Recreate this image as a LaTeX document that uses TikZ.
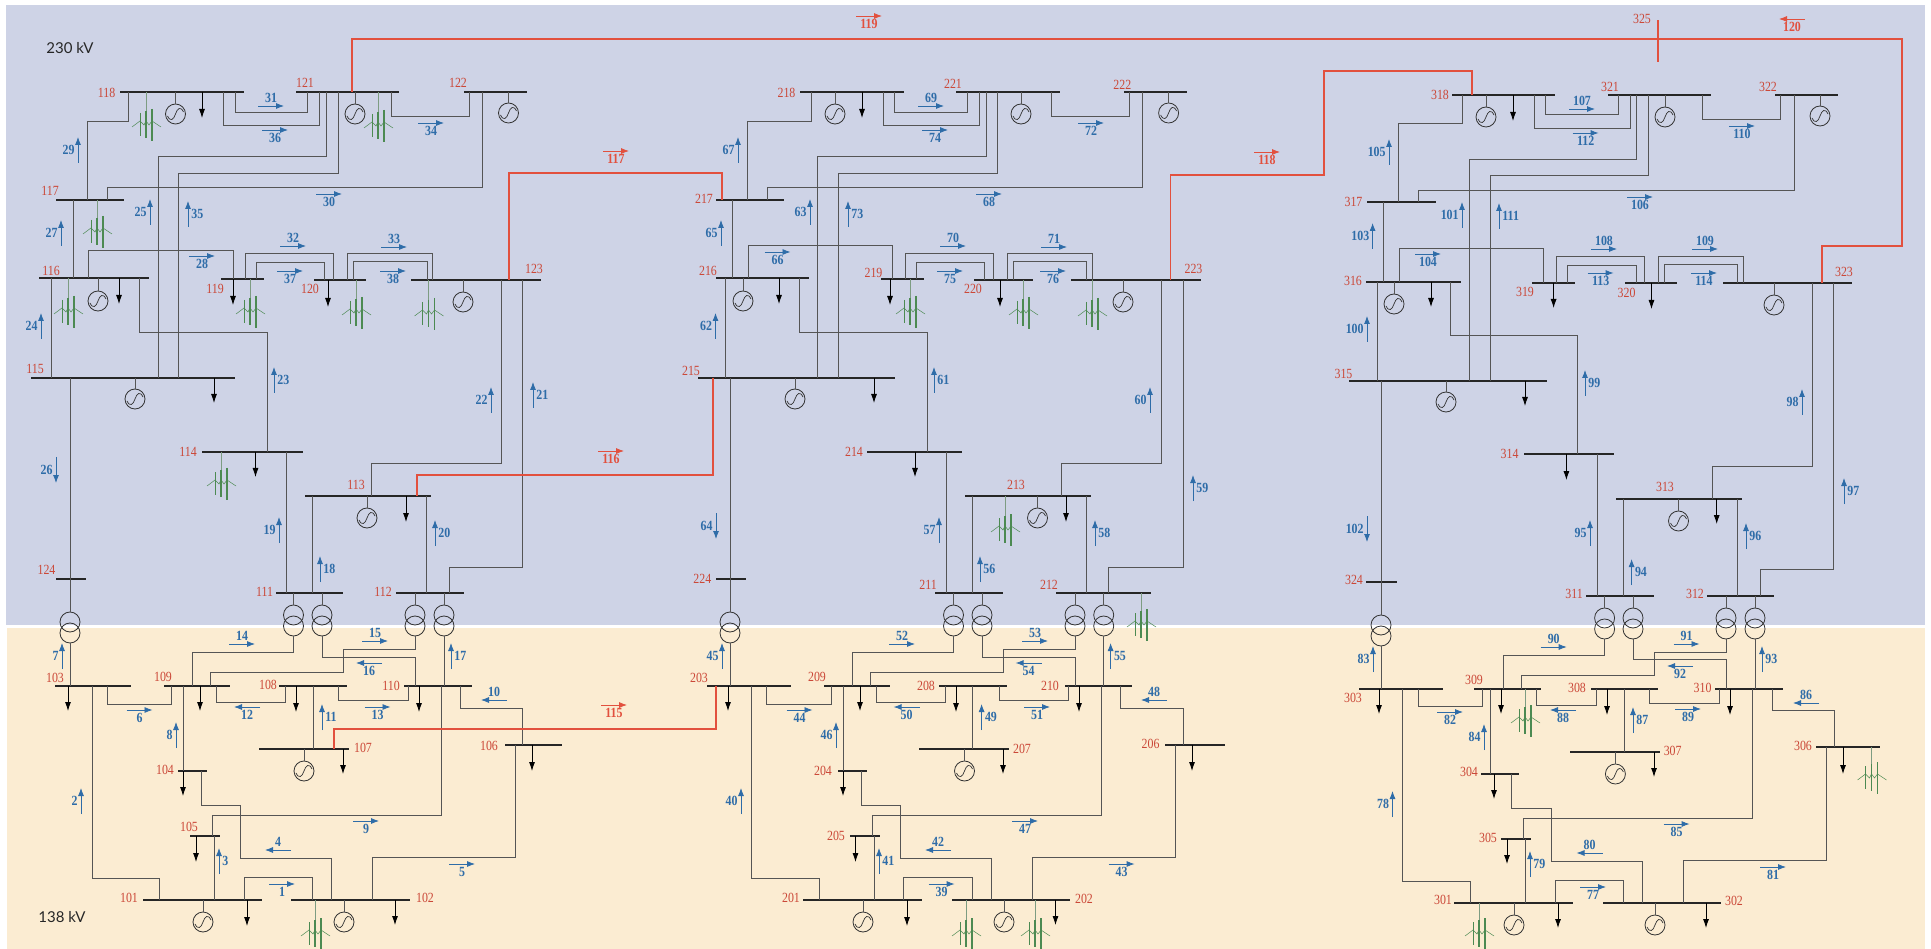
\documentclass[tikz,border=0pt]{standalone}
\usepackage{fontspec}
\usepackage{xcolor}
\usetikzlibrary{arrows.meta,positioning}
\setmainfont[FakeStretch=0.85]{Liberation Serif}
\newfontfamily\voltfont{Lato}

\definecolor{hvband}{HTML}{CED3E6}
\definecolor{lvband}{HTML}{FBECD2}
\definecolor{feedergray}{HTML}{555555}
\definecolor{tiered}{HTML}{E2503E}
\definecolor{flowblue}{HTML}{2E6CA8}
\definecolor{windgreen}{HTML}{4C8A52}
\definecolor{stemgreen}{HTML}{7D9C82}

\tikzset{
	busbar/.style={rectangle,fill=black!85,inner sep=0pt,minimum height=2pt},
	buslabel/.style={inner sep=0pt,text=tiered!90!black,font=\fontsize{14}{14}\selectfont},
	feeder/.style={draw=feedergray,line width=0.9pt},
	tieline/.style={draw=tiered,line width=1.1pt},
	winding/.style={circle,draw=black!80,line width=0.8pt,minimum size=20pt,inner sep=0pt},
	genset/.style={circle,draw=black!80,line width=0.8pt,minimum size=20pt,inner sep=0pt},
	sinewave/.style={draw=black!80,line width=0.7pt},
	demand/.style={draw=black,line width=0.8pt,-{Latex[length=9pt,width=6pt]}},
	flow/.style={color=flowblue,line width=0.8pt,-{Latex[length=8pt,width=6pt]},every node/.style={inner sep=1pt,font=\bfseries\fontsize{14}{14}\selectfont}},
	flowtie/.style={color=tiered,line width=0.8pt,-{Latex[length=8pt,width=6pt]},every node/.style={inner sep=1pt,font=\bfseries\fontsize{14}{14}\selectfont}},
	turbines/.pic={
		\draw[windgreen,line width=0.9pt] (-6,-8) -- (-6,15);
		\draw[windgreen,line width=1.1pt] (0,-10) -- (0,17);
		\draw[windgreen,line width=1.4pt] (6,-12) -- (6,20);
		\draw[windgreen,line width=0.5pt] (-14,6) -- (-6,0) -- (-2,4) -- (0,0) -- (3,4) -- (6,0) -- (15,6);
	}
}

\newcommand{\bus}[6]{
	\node[busbar,minimum width={(#3-#2)*1pt}] (b#1) at ({(#2+#3)/2},#4) {};
	\node[buslabel] (n#1) at (#5,#6) {#1};
}
\newcommand{\tie}[3]{\draw[feeder] (#2,0 |- b#1) -- (#2,0 |- b#3);}
\newcommand{\link}[6][feeder]{\draw[#1] (#3,0 |- b#2) |- (#5,#4) -- (#5,0 |- b#6);}
\newcommand{\xfmr}[4]{
	\node[winding] (t#1u) at (#3,#4) {};
	\node[winding] (t#1l) at (#3,{#4+11}) {};
	\draw[feeder] (#3,0 |- b#2) -- (t#1u.north);
}
\newcommand{\xlink}[4]{\draw[feeder] (t#1l.south) |- (#3,#2) -- (#3,0 |- b#4);}
\newcommand{\gen}[3]{
	\node[genset] (g#1) at (#2,#3) {};
	\draw[feeder] (#2,0 |- b#1) -- (g#1.north);
	\draw[sinewave,shift={(#2,#3)}] (-8,2) .. controls (-5,8) and (-2,6) .. (0,0) .. controls (2,-6) and (5,-8) .. (8,-2);
}
\newcommand{\load}[3]{
	\coordinate (d#1) at (#2,#3);
	\draw[demand] (#2,0 |- b#1) -- (d#1);
}
\newcommand{\wind}[3]{
	\coordinate (w) at (#2,{#3-10});
	\draw[stemgreen,line width=1pt] (#2,0 |- b#1) -- (w);
	\pic at (#2,#3) {turbines};
}
\newcommand{\flowr}[5][flow]{\draw[#1] (#2,#3) -- ++(26,0) node[midway,#4=2pt] (f#5) {#5};}
\newcommand{\flowl}[5][flow]{\draw[#1] (#2,#3) -- ++(-26,0) node[midway,#4=2pt] (f#5) {#5};}
\newcommand{\flowu}[4]{\draw[flow] (#1,#2) -- ++(0,-26) node[midway,#3=2pt] (f#4) {#4};}
\newcommand{\flowd}[4]{\draw[flow] (#1,#2) -- ++(0,26) node[midway,#3=2pt] (f#4) {#4};}

\begin{document}
\begin{tikzpicture}[x=1pt,y=-1pt]
	\useasboundingbox (0,0) rectangle (1931,949);
	\fill[hvband] (6,5) rectangle (1925,625);
	\fill[lvband] (7,628) rectangle (1925,949);
	\node[font=\voltfont\fontsize{15}{15}\selectfont,text=black!85,inner sep=0pt] (v230) at (70,48) {230 kV};
	\node[font=\voltfont\fontsize{15}{15}\selectfont,text=black!85,inner sep=0pt] (v138) at (62,917) {138 kV};

	\bus{118}{120}{244}{92}{106.5}{93}
	\bus{121}{296}{399}{92}{305}{83}
	\bus{122}{464}{527}{92}{458}{83}
	\bus{117}{56}{124}{200}{50}{191}
	\bus{116}{39}{149}{278}{51}{271}
	\bus{119}{221}{264}{279}{215}{289}
	\bus{120}{314}{366}{280}{310}{289}
	\bus{123}{411}{541}{280}{534}{269}
	\bus{115}{31}{235}{378}{35}{369}
	\bus{114}{202}{303}{452}{188}{452}
	\bus{113}{305}{431}{496}{356}{485}
	\bus{124}{56}{86}{579}{46.5}{570}
	\bus{111}{276}{343}{593}{264.5}{592}
	\bus{112}{396}{464}{593}{383}{592}
	\bus{103}{55}{131}{686}{55}{678}
	\bus{109}{164}{230}{686}{163}{677}
	\bus{108}{279}{347}{686}{268}{685}
	\bus{110}{404}{472}{686}{391}{686}
	\bus{107}{259}{349}{749}{363}{748}
	\bus{106}{505}{562}{745}{489}{746}
	\bus{104}{178}{207}{771}{165}{770}
	\bus{105}{190}{220}{836}{189}{827}
	\bus{101}{143}{262}{900}{129}{898}
	\bus{102}{291}{410}{900}{425}{898}

	\bus{218}{800}{904}{92}{786.5}{93}
	\bus{221}{956}{1060}{92}{953}{84}
	\bus{222}{1124}{1187}{92}{1122.4}{85}
	\bus{217}{716}{784}{200}{704}{199}
	\bus{216}{715.5}{809}{278}{708}{271}
	\bus{219}{881}{924}{279}{873.5}{273}
	\bus{220}{974}{1033}{280}{973}{289}
	\bus{223}{1071}{1201}{280}{1193.5}{269}
	\bus{215}{698}{895}{378}{691}{371}
	\bus{214}{867}{962}{452}{854}{452}
	\bus{213}{965}{1091}{496}{1016}{485}
	\bus{224}{715.5}{746}{579}{702.4}{579}
	\bus{211}{935}{1003}{593}{928}{585}
	\bus{212}{1055.5}{1151}{593}{1049}{585}
	\bus{203}{707}{791}{686}{699}{678}
	\bus{209}{824}{890}{686}{817}{677}
	\bus{208}{939}{1007}{686}{926}{686}
	\bus{210}{1064.5}{1132}{686}{1050}{686}
	\bus{207}{919}{1009}{749}{1022}{749}
	\bus{206}{1165}{1225}{745}{1150.6}{744}
	\bus{204}{837.5}{867}{771}{823}{771}
	\bus{205}{850}{880}{836}{836}{836}
	\bus{201}{803}{922}{900}{791}{898}
	\bus{202}{951.5}{1070}{900}{1084}{899}

	\bus{318}{1452}{1555}{95}{1440}{95}
	\bus{321}{1608}{1710.5}{95}{1610}{87}
	\bus{322}{1775}{1838}{95}{1768}{87}
	\bus{317}{1367}{1436}{202}{1353.5}{202}
	\bus{316}{1366}{1460.6}{282}{1353}{281}
	\bus{319}{1531.6}{1575}{283}{1525}{292}
	\bus{320}{1625}{1677}{283}{1626.6}{293}
	\bus{323}{1723}{1852}{283}{1844}{272}
	\bus{315}{1349}{1546.5}{381}{1343.5}{374}
	\bus{314}{1524}{1614}{454}{1509.6}{454}
	\bus{313}{1616}{1742}{499}{1665}{487}
	\bus{324}{1366}{1397}{582}{1354}{580}
	\bus{311}{1586}{1654}{596}{1574}{594}
	\bus{312}{1707}{1774}{596}{1695}{594}
	\bus{303}{1359}{1443}{689}{1353}{698}
	\bus{309}{1474}{1541}{689}{1474}{680}
	\bus{308}{1590.5}{1658}{689}{1577}{688}
	\bus{310}{1715}{1783}{689}{1702.6}{688}
	\bus{307}{1570}{1660}{752}{1672.7}{751}
	\bus{306}{1816}{1880}{747}{1803}{746}
	\bus{304}{1481}{1519}{774}{1469}{772}
	\bus{305}{1501}{1531}{839}{1488}{838}
	\bus{301}{1454}{1573}{903}{1443}{900}
	\bus{302}{1603}{1721}{903}{1734}{901}
	\node[rectangle,fill=tiered,inner sep=0pt,minimum width=2pt,minimum height=42pt] (b325) at (1658,41) {};
	\node[buslabel] (n325) at (1642,19) {325};

	\link{118}{235}{112}{307}{121}
	\link{118}{223}{125}{319}{121}
	\link{118}{128}{121}{87}{117}
	\link{121}{326}{156}{158}{115}
	\link{121}{338}{173}{178}{115}
	\link{121}{391}{116}{469}{122}
	\link{122}{482}{187}{107}{117}
	\tie{117}{73}{116}
	\tie{116}{51}{115}
	\link{116}{88}{250}{233}{119}
	\link{116}{139}{332}{267}{114}
	\link{119}{245}{253}{333}{120}
	\link{119}{256}{262}{324}{120}
	\link{120}{347}{253}{432}{123}
	\link{120}{353}{261}{427}{123}
	\link{123}{501}{463}{371}{113}
	\link{123}{522}{567}{449}{112}
	\tie{115}{70}{124}
	\tie{114}{286}{111}
	\tie{113}{312}{111}
	\tie{113}{426}{112}
	\xfmr{124}{124}{70}{622}
	\xfmr{111a}{111}{293.5}{615}
	\xfmr{111b}{111}{322}{615}
	\xfmr{112a}{112}{415}{615}
	\xfmr{112b}{112}{444}{615}
	\draw[feeder] (t124l.south) -- (70,0 |- b103);
	\xlink{111a}{652}{192}{109}
	\xlink{111b}{657}{415}{110}
	\draw[feeder] (t112al.south) |- (343,649) |- (210,672) -- (210,0 |- b109);
	\draw[feeder] (t112bl.south) -- (444,0 |- b110);
	\link{103}{107}{704}{171}{109}
	\link{103}{92}{878}{159}{101}
	\link{109}{216}{702}{285}{108}
	\link{108}{338}{700}{408}{110}
	\tie{108}{313}{107}
	\tie{109}{183}{104}
	\draw[feeder] (201,0 |- b104) |- (240,805) |- (331,858) -- (331,0 |- b102);
	\link{110}{441}{815}{212}{105}
	\tie{105}{214}{101}
	\link{101}{244}{877}{312}{102}
	\link{102}{372}{857}{515}{106}
	\link{110}{460}{708}{522}{106}

	\link{218}{894}{112}{967}{221}
	\link{218}{883}{125}{979}{221}
	\link{218}{811}{121}{747}{217}
	\link{221}{986}{156}{817.5}{215}
	\link{221}{997.5}{173}{838}{215}
	\link{221}{1051}{116}{1129}{222}
	\link{222}{1142}{187}{767}{217}
	\tie{217}{732}{216}
	\tie{216}{725}{215}
	\link{216}{748}{245}{892}{219}
	\link{216}{799}{332}{927}{214}
	\link{219}{905}{253}{993}{220}
	\link{219}{916}{262}{984.5}{220}
	\link{220}{1007}{253}{1092}{223}
	\link{220}{1013.5}{261}{1086}{223}
	\link{223}{1161}{463}{1061}{213}
	\link{223}{1183}{567}{1108.5}{212}
	\tie{215}{730}{224}
	\tie{214}{946.5}{211}
	\tie{213}{972}{211}
	\tie{213}{1086}{212}
	\xfmr{224}{224}{730}{622}
	\xfmr{211a}{211}{953.5}{615}
	\xfmr{211b}{211}{982}{615}
	\xfmr{212a}{212}{1075}{615}
	\xfmr{212b}{212}{1103.7}{615}
	\draw[feeder] (t224l.south) -- (730,0 |- b203);
	\xlink{211a}{652}{852}{209}
	\xlink{211b}{657}{1075}{210}
	\draw[feeder] (t212al.south) |- (1003,649) |- (870,672) -- (870,0 |- b209);
	\draw[feeder] (t212bl.south) -- (1103.7,0 |- b210);
	\link{203}{766.5}{704}{831}{209}
	\link{203}{751.4}{878}{819}{201}
	\link{209}{876}{702}{945}{208}
	\link{208}{999}{700}{1068}{210}
	\tie{208}{972.6}{207}
	\tie{209}{843}{204}
	\draw[feeder] (861,0 |- b204) |- (900,805) |- (991,858) -- (991,0 |- b202);
	\link{210}{1101.6}{815}{872}{205}
	\tie{205}{874}{201}
	\link{201}{903.7}{877}{972}{202}
	\link{202}{1032}{857}{1175}{206}
	\link{210}{1120}{708}{1183}{206}

	\link{318}{1545}{114}{1618}{321}
	\link{318}{1534}{128}{1630}{321}
	\link{318}{1462}{123}{1398}{317}
	\link{321}{1636.6}{159}{1469}{315}
	\link{321}{1648}{175}{1490}{315}
	\link{321}{1702.6}{119}{1780}{322}
	\link{322}{1794}{190}{1418}{317}
	\tie{317}{1383}{316}
	\tie{316}{1377}{315}
	\link{316}{1399.6}{248}{1543}{319}
	\link{316}{1450}{335}{1577.6}{314}
	\link{319}{1556.5}{256}{1644}{320}
	\link{319}{1567}{265}{1636}{320}
	\link{320}{1658.6}{256}{1743}{323}
	\link{320}{1664}{264}{1737}{323}
	\link{323}{1812}{466}{1712}{313}
	\link{323}{1833}{569}{1760}{312}
	\tie{315}{1381}{324}
	\tie{314}{1597.6}{311}
	\tie{313}{1623}{311}
	\tie{313}{1737.5}{312}
	\xfmr{324}{324}{1381}{625}
	\xfmr{311a}{311}{1604.6}{618}
	\xfmr{311b}{311}{1633}{618}
	\xfmr{312a}{312}{1726}{618}
	\xfmr{312b}{312}{1755}{618}
	\draw[feeder] (t324l.south) -- (1381,0 |- b303);
	\xlink{311a}{655}{1503}{309}
	\xlink{311b}{659}{1726.6}{310}
	\draw[feeder] (t312al.south) |- (1654,652) |- (1521,675) -- (1521,0 |- b309);
	\draw[feeder] (t312bl.south) -- (1755,0 |- b310);
	\link{303}{1418}{706}{1482.6}{309}
	\link{303}{1402.5}{881}{1470}{301}
	\link{309}{1536.5}{705}{1596}{308}
	\link{308}{1649.5}{703}{1719}{310}
	\tie{308}{1624}{307}
	\tie{309}{1490}{304}
	\draw[feeder] (1511.6,0 |- b304) |- (1551.5,808) |- (1642.4,861) -- (1642.4,0 |- b302);
	\link{310}{1752}{818}{1523}{305}
	\tie{305}{1525}{301}
	\link{301}{1555}{880}{1623}{302}
	\link{302}{1683.5}{860}{1826}{306}
	\link{310}{1772}{710}{1834}{306}

	\draw[tieline] (352,0 |- b121) |- (b325 |- 0,39);
	\draw[tieline] (1822,0 |- b323) |- (1902,246) |- (b325 |- 0,39);
	\link[tieline]{123}{509}{173}{722}{217}
	\link[tieline]{113}{417}{475}{713}{215}
	\link[tieline]{107}{334}{729}{716}{203}
	\draw[tieline] (1170.6,0 |- b223) |- (1324,175) |- (1472,71) -- (1472,0 |- b318);

	\gen{118}{175.5}{114}
	\gen{121}{355}{114}
	\gen{122}{508.5}{113}
	\gen{116}{98}{301}
	\gen{123}{463}{302}
	\gen{115}{135}{399}
	\gen{113}{367}{518}
	\gen{107}{304}{771}
	\gen{101}{203}{922}
	\gen{102}{344}{922}
	\gen{218}{835}{114}
	\gen{221}{1021}{114}
	\gen{222}{1168.6}{113}
	\gen{216}{743}{301}
	\gen{223}{1123}{302}
	\gen{215}{795}{399}
	\gen{213}{1037.5}{518}
	\gen{207}{964.5}{771}
	\gen{201}{863}{922}
	\gen{202}{1004}{922}
	\gen{318}{1486}{117}
	\gen{321}{1665}{117}
	\gen{322}{1820}{116}
	\gen{316}{1394}{304}
	\gen{323}{1774}{305}
	\gen{315}{1446}{402}
	\gen{313}{1678.5}{521}
	\gen{307}{1615.4}{774}
	\gen{301}{1514}{925}
	\gen{302}{1655}{925}

	\load{118}{202}{118}
	\load{116}{119}{304}
	\load{119}{233}{305}
	\load{120}{328}{307}
	\load{115}{214}{403}
	\load{114}{255.5}{477}
	\load{113}{406}{522}
	\load{103}{68}{711}
	\load{109}{200}{711}
	\load{108}{296}{712}
	\load{110}{419}{712}
	\load{107}{343}{774}
	\load{106}{532}{771}
	\load{104}{183}{796}
	\load{105}{196}{862}
	\load{101}{247}{926}
	\load{102}{395}{925}
	\load{218}{862}{118}
	\load{216}{779}{304}
	\load{219}{890}{305}
	\load{220}{1000}{307}
	\load{215}{874}{403}
	\load{214}{915}{477}
	\load{213}{1066}{522}
	\load{203}{728}{711}
	\load{209}{860}{711}
	\load{208}{956}{712}
	\load{210}{1079}{712}
	\load{207}{1003}{774}
	\load{206}{1192}{771}
	\load{204}{843}{796}
	\load{205}{855.5}{862}
	\load{201}{907}{926}
	\load{202}{1055.5}{925}
	\load{318}{1513}{121}
	\load{316}{1431}{307}
	\load{319}{1553.6}{308}
	\load{320}{1651.5}{309}
	\load{315}{1525}{406}
	\load{314}{1566.4}{480}
	\load{313}{1716.7}{524}
	\load{303}{1379}{714}
	\load{309}{1501}{714}
	\load{308}{1607}{715}
	\load{310}{1730}{715}
	\load{307}{1654}{777}
	\load{306}{1843}{774}
	\load{304}{1494}{799}
	\load{305}{1507}{864}
	\load{301}{1558}{928}
	\load{302}{1706}{928}

	\wind{118}{146}{121}
	\wind{121}{378}{122}
	\wind{117}{97}{228}
	\wind{116}{68}{308}
	\wind{119}{250}{308}
	\wind{120}{356}{309}
	\wind{123}{428.5}{310}
	\wind{114}{221}{480}
	\wind{102}{315}{930}
	\wind{219}{910}{308}
	\wind{220}{1023}{309}
	\wind{223}{1092}{310}
	\wind{213}{1005}{526}
	\wind{212}{1141}{621}
	\wind{202}{966}{930}
	\wind{202}{1035}{930}
	\wind{309}{1525}{717}
	\wind{306}{1871.5}{774}
	\wind{301}{1479}{930}

	\flowr{269}{884}{below}{1}
	\flowu{81}{814}{left}{2}
	\flowu{219}{874}{right}{3}
	\flowl{291}{850}{above}{4}
	\flowr{449}{864}{below}{5}
	\flowr{126.5}{710}{below}{6}
	\flowu{62}{669}{left}{7}
	\flowu{176}{748}{left}{8}
	\flowr{353}{821}{below}{9}
	\flowl{507}{700}{above}{10}
	\flowu{322}{730}{right}{11}
	\flowl{260}{707}{below}{12}
	\flowr{364.5}{707}{below}{13}
	\flowr{229}{644}{above}{14}
	\flowr{362}{641}{above}{15}
	\flowl{382}{663}{below}{16}
	\flowu{451}{669}{right}{17}
	\flowu{320}{582}{right}{18}
	\flowu{279}{543}{left}{19}
	\flowu{435}{546}{right}{20}
	\flowu{533}{408}{right}{21}
	\flowu{491}{413}{left}{22}
	\flowu{274}{393}{right}{23}
	\flowu{41}{339}{left}{24}
	\flowu{150}{225}{left}{25}
	\flowd{56}{457}{left}{26}
	\flowu{61}{246}{left}{27}
	\flowr{189}{256}{below}{28}
	\flowu{78}{163}{left}{29}
	\flowr{316}{194}{below}{30}
	\flowr{258}{106}{above}{31}
	\flowr{280}{246}{above}{32}
	\flowr{381}{247}{above}{33}
	\flowr{418}{123}{below}{34}
	\flowu{188}{227}{right}{35}
	\flowr{262}{130}{below}{36}
	\flowr{277}{271}{below}{37}
	\flowr{380}{271}{below}{38}
	\flowr{928.6}{884}{below}{39}
	\flowu{741}{814}{left}{40}
	\flowu{879}{874}{right}{41}
	\flowl{951}{850}{above}{42}
	\flowr{1108.6}{864}{below}{43}
	\flowr{786.5}{710}{below}{44}
	\flowu{722}{669}{left}{45}
	\flowu{836}{748}{left}{46}
	\flowr{1012}{821}{below}{47}
	\flowl{1167}{700}{above}{48}
	\flowu{981.6}{730}{right}{49}
	\flowl{919.6}{707}{below}{50}
	\flowr{1024}{707}{below}{51}
	\flowr{889}{644}{above}{52}
	\flowr{1022}{641}{above}{53}
	\flowl{1041.6}{663}{below}{54}
	\flowu{1110.6}{669}{right}{55}
	\flowu{980}{582}{right}{56}
	\flowu{939}{543}{left}{57}
	\flowu{1095}{546}{right}{58}
	\flowu{1193}{501}{right}{59}
	\flowu{1150}{413}{left}{60}
	\flowu{934}{393}{right}{61}
	\flowu{715.5}{339}{left}{62}
	\flowu{810}{225}{left}{63}
	\flowd{716}{513}{left}{64}
	\flowu{721}{246}{left}{65}
	\flowr{764.5}{252}{below}{66}
	\flowu{738}{163}{left}{67}
	\flowr{976}{194}{below}{68}
	\flowr{918}{106}{above}{69}
	\flowr{940}{246}{above}{70}
	\flowr{1041}{247}{above}{71}
	\flowr{1078}{123}{below}{72}
	\flowu{848}{227}{right}{73}
	\flowr{922}{130}{below}{74}
	\flowr{937}{271}{below}{75}
	\flowr{1040}{271}{below}{76}
	\flowr{1580}{887}{below}{77}
	\flowu{1392.5}{817}{left}{78}
	\flowu{1530}{877}{right}{79}
	\flowl{1602.5}{853}{above}{80}
	\flowr{1760}{867}{below}{81}
	\flowr{1437}{712}{below}{82}
	\flowu{1373}{672}{left}{83}
	\flowu{1484}{750}{left}{84}
	\flowr{1663.6}{824}{below}{85}
	\flowl{1819}{703}{above}{86}
	\flowu{1633}{733}{right}{87}
	\flowl{1576}{710}{below}{88}
	\flowr{1675}{709}{below}{89}
	\flowr{1540.7}{647}{above}{90}
	\flowr{1673.5}{644}{above}{91}
	\flowl{1693}{666}{below}{92}
	\flowu{1762}{672}{right}{93}
	\flowu{1631.6}{585}{right}{94}
	\flowu{1590}{546}{left}{95}
	\flowu{1746}{549}{right}{96}
	\flowu{1844}{504}{right}{97}
	\flowu{1802}{415}{left}{98}
	\flowu{1585}{396}{right}{99}
	\flowu{1367}{342}{left}{100}
	\flowu{1462}{228}{left}{101}
	\flowd{1367}{516}{left}{102}
	\flowu{1372.6}{249}{left}{103}
	\flowr{1415}{254}{below}{104}
	\flowu{1389}{165}{left}{105}
	\flowr{1627}{197}{below}{106}
	\flowr{1569}{109}{above}{107}
	\flowr{1591}{249}{above}{108}
	\flowr{1692}{249}{above}{109}
	\flowr{1729}{126}{below}{110}
	\flowu{1499}{229}{right}{111}
	\flowr{1572.6}{133}{below}{112}
	\flowr{1587.6}{273}{below}{113}
	\flowr{1691}{273}{below}{114}
	\flowr[flowtie]{601}{705}{below}{115}
	\flowr[flowtie]{598}{451}{below}{116}
	\flowr[flowtie]{603}{151}{below}{117}
	\flowr[flowtie]{1254}{152}{below}{118}
	\flowr[flowtie]{856}{16}{below}{119}
	\flowl[flowtie]{1805}{19}{below}{120}
\end{tikzpicture}
\end{document}
